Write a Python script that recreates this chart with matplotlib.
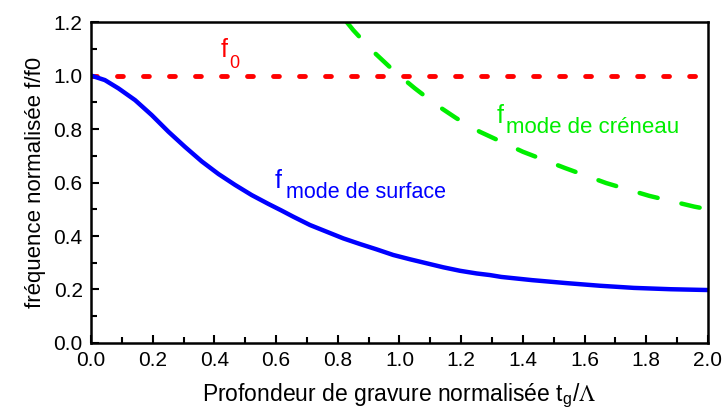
import matplotlib.pyplot as plt
from matplotlib.ticker import MultipleLocator

plt.rcParams["font.family"] = ["Liberation Sans", "DejaVu Sans"]
plt.rcParams["mathtext.fontset"] = "stix"

# surface mode (blue)
x_surface = [0.0, 0.045, 0.089, 0.143, 0.197, 0.251, 0.305, 0.359, 0.413, 0.467,
             0.521, 0.575, 0.618, 0.656, 0.710, 0.764, 0.818, 0.872, 0.926, 0.980,
             1.034, 1.088, 1.142, 1.196, 1.25, 1.293, 1.33, 1.43, 1.54, 1.65,
             1.76, 1.88, 2.0]
f_surface = [1.0, 0.983, 0.952, 0.908, 0.852, 0.790, 0.733, 0.679, 0.632, 0.591,
             0.553, 0.520, 0.495, 0.472, 0.441, 0.416, 0.391, 0.370, 0.350, 0.329,
             0.313, 0.298, 0.283, 0.270, 0.260, 0.254, 0.247, 0.235, 0.224, 0.214,
             0.206, 0.201, 0.198]

# crenel mode (green)
x_creneau = [0.829, 0.85, 0.91, 0.985, 1.05, 1.12, 1.185, 1.26, 1.40, 1.537,
             1.67, 1.81, 1.955, 2.0]
f_creneau = [1.2, 1.17, 1.095, 1.014, 0.952, 0.89, 0.84, 0.79, 0.715, 0.654,
             0.598, 0.55, 0.51, 0.50]

# reference frequency f0
x_ref = [0.0, 2.0]
f_ref = [1.0, 1.0]

RED, GREEN, BLUE = "#ff0000", "#00ee00", "#0000ff"


def f_label(ax, x, y, sub, color, size, sub_size, dx, dy):
    """Big 'f' at (x, y) with its subscript shifted by (dx, dy) pixels."""
    ax.text(x, y, "f", color=color, fontsize=size, ha="left", va="baseline")
    ax.annotate(sub, (x, y), xytext=(dx, dy), textcoords="offset pixels",
                color=color, fontsize=sub_size, ha="left", va="baseline")


fig = plt.figure(figsize=(7.25, 4.12), dpi=100)
ax = fig.add_axes([0.1255, 0.1675, 0.851, 0.779])

ax.plot(x_ref, f_ref, color=RED, lw=3.5, dashes=(1.2, 4.15),
        dash_capstyle="round")
ax.plot(x_creneau, f_creneau, color=GREEN, lw=3.2, dashes=(4.2, 5.5),
        dash_capstyle="round")
ax.plot(x_surface, f_surface, color=BLUE, lw=3.2, solid_capstyle="round",
        solid_joinstyle="round")

f_label(ax, 0.421, 1.070, "0", RED, 18, 13, 8, -11)
f_label(ax, 0.596, 0.579, "mode de surface", BLUE, 18, 15.5, 11, -10)
f_label(ax, 1.316, 0.822, "mode de créneau", GREEN, 18, 16, 9, -10)

ax.set_xlim(0, 2.0)
ax.set_ylim(0, 1.2)
ax.xaxis.set_major_locator(MultipleLocator(0.2))
ax.xaxis.set_minor_locator(MultipleLocator(0.1))
ax.yaxis.set_major_locator(MultipleLocator(0.2))
ax.yaxis.set_minor_locator(MultipleLocator(0.1))
ax.xaxis.set_major_formatter(lambda v, p: f"{v:.1f}")
ax.yaxis.set_major_formatter(lambda v, p: f"{v:.1f}")
ax.tick_params(which="both", direction="in", top=False, right=False, width=1.5,
               labelsize=15, pad=6)
ax.tick_params(which="major", length=6)
ax.tick_params(which="minor", length=4)
for s in ax.spines.values():
    s.set_linewidth(1.8)

ax.set_xlabel(r"Profondeur de gravure normalisée t$_\mathregular{g}$/$\Lambda$",
              fontsize=16.5, labelpad=8)
ax.set_ylabel("fréquence normalisée f/f0", fontsize=16, labelpad=5)

fig.savefig("out.png", dpi=100)
